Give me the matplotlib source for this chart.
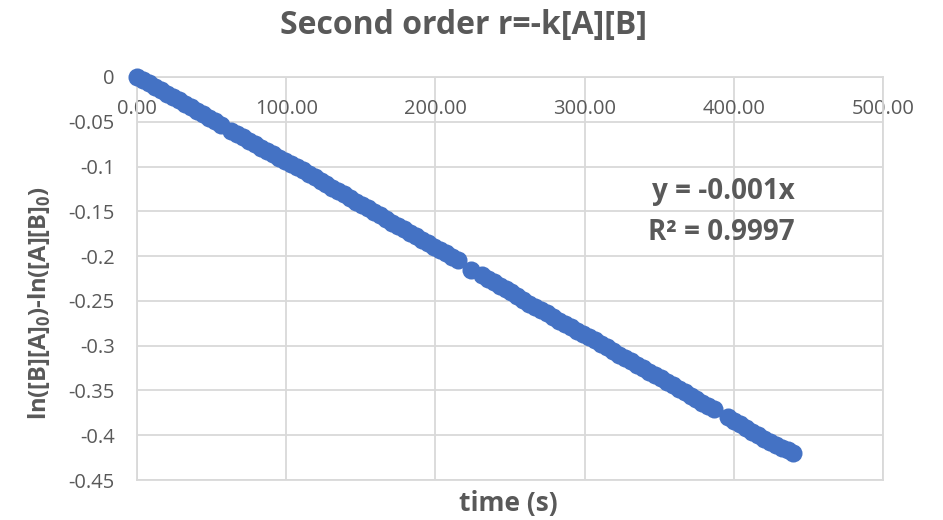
import numpy as np
import matplotlib
matplotlib.use("Agg")
import matplotlib.pyplot as plt

# data
time_s = [0, 4, 8, 12, 16, 20, 24, 28, 32, 36, 40, 44, 48, 52, 56,
          63, 67, 71, 75, 79, 83, 87, 91, 95, 99, 103, 107, 111, 115, 119,
          123, 127, 131, 135, 139, 143, 147, 151, 155, 159, 163, 167, 171, 175, 179,
          183, 187, 191, 195, 199, 203, 207, 211, 215,
          224, 231, 235, 239, 243, 247, 251, 255, 259, 263, 267, 271, 275, 279, 283,
          287, 291, 295, 299, 303, 307, 311, 315, 319, 323, 327, 331, 335, 339, 343,
          347, 351, 355, 359, 363, 367, 371, 375, 379, 383, 387,
          396, 400, 404, 408, 412, 416, 420, 424, 428, 432, 436, 440]
ln_ratio = [0.0, -0.0030, -0.0068, -0.0110, -0.0148, -0.0190, -0.0228, -0.0262, -0.0300,
            -0.0340, -0.0378, -0.0415, -0.0455, -0.0495, -0.0532,
            -0.0600, -0.0640, -0.0672, -0.0710, -0.0748, -0.0790, -0.0830, -0.0865,
            -0.0900, -0.0935, -0.0975, -0.1010, -0.1040, -0.1078, -0.1120,
            -0.1162, -0.1200, -0.1238, -0.1272, -0.1310, -0.1350, -0.1392, -0.1430,
            -0.1468, -0.1505, -0.1545, -0.1585, -0.1625, -0.1665, -0.1702,
            -0.1740, -0.1775, -0.1815, -0.1855, -0.1895, -0.1930, -0.1968, -0.2005, -0.2045,
            -0.2150, -0.2215, -0.2255, -0.2290, -0.2330, -0.2370, -0.2405, -0.2450,
            -0.2492, -0.2530, -0.2565, -0.2600, -0.2640, -0.2680, -0.2720,
            -0.2758, -0.2795, -0.2832, -0.2870, -0.2905, -0.2942, -0.2980, -0.3018,
            -0.3060, -0.3100, -0.3138, -0.3175, -0.3212, -0.3250, -0.3290,
            -0.3328, -0.3365, -0.3402, -0.3440, -0.3480, -0.3520, -0.3558, -0.3595,
            -0.3635, -0.3672, -0.3710,
            -0.3800, -0.3840, -0.3880, -0.3920, -0.3960, -0.4000, -0.4040, -0.4075,
            -0.4110, -0.4140, -0.4170, -0.4200]

x_ticks = [0, 100, 200, 300, 400, 500]
x_tick_labels = ["0.00", "100.00", "200.00", "300.00", "400.00", "500.00"]
y_ticks = [0, -0.05, -0.1, -0.15, -0.2, -0.25, -0.3, -0.35, -0.4, -0.45]
y_tick_labels = ["0", "-0.05", "-0.1", "-0.15", "-0.2", "-0.25", "-0.3", "-0.35", "-0.4", "-0.45"]

plt.rcParams["font.family"] = ["Open Sans", "DejaVu Sans"]
plt.rcParams["mathtext.fontset"] = "custom"
plt.rcParams["mathtext.bf"] = "Open Sans:bold"
text_grey = "#595959"
grid_grey = "#d9d9d9"
blue = "#4472C4"

fig = plt.figure(figsize=(9.43, 5.2), dpi=100)
ax = fig.add_axes([137 / 943, 1 - 480 / 520, (883 - 137) / 943, (480 - 77) / 520])

# linear trendline through the origin
t = np.array(time_s, dtype=float)
y = np.array(ln_ratio)
slope = np.sum(t * y) / np.sum(t * t)
t_line = np.array([0, t.max()])
ax.plot(t_line, slope * t_line, color=blue, lw=1.5, zorder=2)

ax.plot(time_s, ln_ratio, "o", color=blue, markersize=13, markeredgewidth=0,
        zorder=3, clip_on=False)

ax.set_xlim(0, 500)
ax.set_ylim(-0.45, 0)
ax.set_xticks(x_ticks)
ax.set_xticklabels(x_tick_labels)
ax.set_yticks(y_ticks)
ax.set_yticklabels(y_tick_labels)
ax.xaxis.tick_top()
ax.tick_params(axis="x", length=0, pad=-30, labelsize=14.5, labelcolor=text_grey)
ax.tick_params(axis="y", length=0, pad=16, labelsize=14.5, labelcolor=text_grey)
ax.grid(True, color=grid_grey, lw=1.3)
ax.set_axisbelow(True)
for s in ax.spines.values():
    s.set_color(grid_grey)
    s.set_linewidth(1.3)

fig.text(463 / 943, 1 - 25 / 520, "Second order r=-k[A][B]", ha="center", va="center",
         fontsize=23, fontweight="bold", color=text_grey)
fig.text(508 / 943, 1 - 503 / 520, "time (s)", ha="center", va="center",
         fontsize=19, fontweight="bold", color=text_grey)
fig.text(40 / 943, 1 - 303 / 520, r"ln([B][A]$_\mathbf{0}$)-ln([A][B]$_\mathbf{0}$)",
         ha="center", va="center", rotation=90, fontsize=17, fontweight="bold", color=text_grey)

ax.text(441, -0.128, "y = -0.001x", ha="right", va="center",
        fontsize=20, fontweight="bold", color=text_grey)
ax.text(441, -0.174, "R² = 0.9997", ha="right", va="center",
        fontsize=20, fontweight="bold", color=text_grey)

fig.savefig("out.png", dpi=100)
